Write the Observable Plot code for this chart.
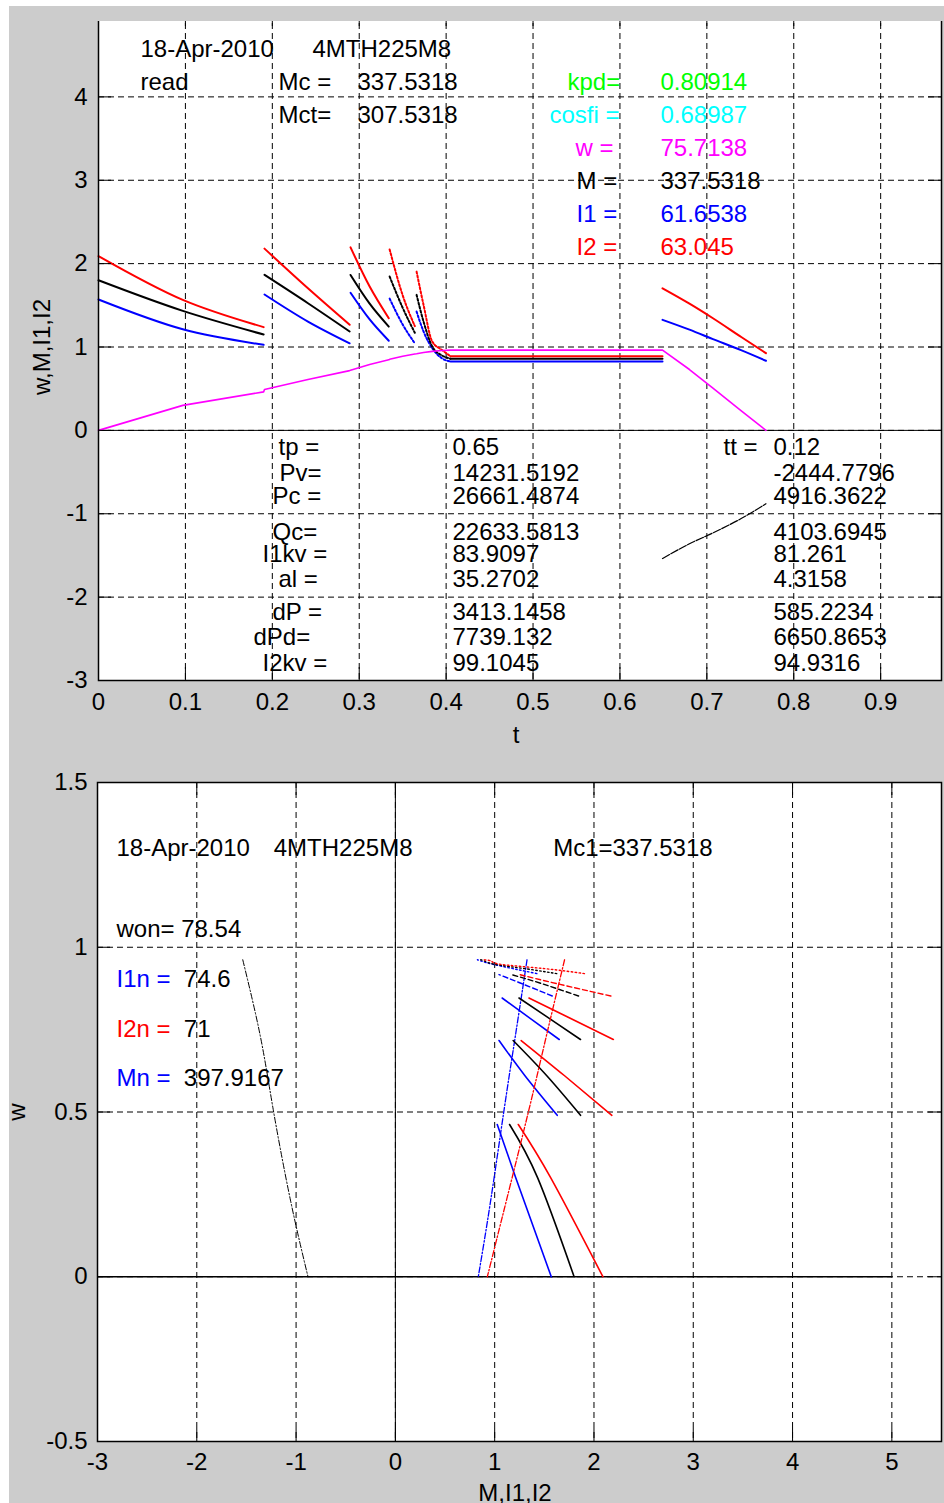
<!DOCTYPE html>
<html><head><meta charset="utf-8">
<script src="https://cdn.jsdelivr.net/npm/d3@7"></script>
<script src="https://cdn.jsdelivr.net/npm/@observablehq/plot@0.6"></script>
<style>
html,body{margin:0;padding:0;background:#fff;}
#fig{position:relative;width:944px;height:1503px;overflow:hidden;}
#bg{position:absolute;left:9px;top:6px;width:935px;height:1497px;background:#cccccc;}
#top{position:absolute;left:0;top:0;}
#bot{position:absolute;left:0;top:760px;}
#strip{position:absolute;left:9px;top:6px;width:935px;height:15px;background:#cccccc;}
#white{position:absolute;left:0;top:0;width:944px;height:6px;background:#fff;}
#fig svg{background:transparent !important;overflow:visible;}
#fig svg text{font-family:'Liberation Sans',Arial,Helvetica,sans-serif;font-size:24px;}
</style></head>
<body><div id="fig"><div id="bg"></div><div id="top"></div><div id="bot"></div><div id="strip"></div><div id="white"></div></div>
<script>
// ---------- data ----------
// segment id of every sample: 1..5 acceleration stages, 6 steady run, 7 braking
const segId = [1,1,1, 2,2,2, 3,3,3, 4,4,4, 5,5,5,5,5, 6,6, 7,7,7,7,7];
const tVal  = [0,0.097,0.190, 0.191,0.241,0.289, 0.290,0.312,0.334, 0.335,0.350,0.364, 0.366,0.374,0.384,0.395,0.405, 0.405,0.649, 0.649,0.68,0.707,0.74,0.768];
const wVal  = [0,0.30,0.462, 0.49,0.61,0.717, 0.72,0.79,0.846, 0.852,0.89,0.917, 0.92,0.935,0.948,0.958,0.962, 0.962,0.962, 0.962,0.73,0.507,0.23,0.0];
const mVal  = [1.80,1.433,1.15, 1.865,1.525,1.186, 1.864,1.52,1.245, 1.845,1.47,1.17, 1.625,1.305,1.006,0.90,0.86, 0.86,0.86, -1.537,-1.36,-1.23,-1.055,-0.88];
const i1Val = [1.57,1.213,1.026, 1.63,1.305,1.044, 1.65,1.33,1.075, 1.58,1.27,1.044, 1.425,1.186,0.986,0.866,0.826, 0.826,0.826, 1.326,1.208,1.095,0.959,0.835];
const i2Val = [2.09,1.565,1.238, 2.18,1.704,1.267, 2.195,1.725,1.345, 2.17,1.62,1.25, 1.904,1.505,1.066,0.966,0.89, 0.89,0.89, 1.704,1.52,1.345,1.117,0.926];

// ticks
const tTicks = [0,0.1,0.2,0.3,0.4,0.5,0.6,0.7,0.8,0.9];
const vTicks = [-3,-2,-1,0,1,2,3,4,5];
const mTicks = [-3,-2,-1,0,1,2,3,4,5];
const wTicks = [-0.5,0,0.5,1,1.5];

// annotation texts, top plot
const topText  = ["18-Apr-2010","4MTH225M8","read","Mc =","337.5318","Mct=","307.5318",
  "kpd=","0.80914","cosfi =","0.68987","w =","75.7138","M =","337.5318","I1 =","61.6538","I2 =","63.045",
  "tp =","0.65","Pv=","14231.5192","Pc =","26661.4874","Qc=","22633.5813","I1kv =","83.9097","al =","35.2702",
  "dP =","3413.1458","dPd=","7739.132","I2kv =","99.1045",
  "tt =","0.12","-2444.7796","4916.3622","4103.6945","81.261","4.3158","585.2234","6650.8653","94.9316"];
const topTextT = [0.0483,0.2462,0.0483,0.2071,0.298,0.2071,0.298,
  0.5396,0.6466,0.5189,0.6466,0.5488,0.6466,0.550,0.6466,0.550,0.6466,0.550,0.6466,
  0.2071,0.4073,0.2083,0.4073,0.2002,0.4073,0.2002,0.4073,0.1887,0.4073,0.2071,0.4073,
  0.2002,0.4073,0.1783,0.4073,0.1887,0.4073,
  0.7192,0.7767,0.7767,0.7767,0.7767,0.7767,0.7767,0.7767,0.7767,0.7767];
const topTextV = [4.568,4.568,4.169,4.169,4.169,3.773,3.773,
  4.169,4.169,3.773,3.773,3.389,3.389,2.990,2.990,2.589,2.589,2.190,2.190,
  -0.209,-0.209,-0.509,-0.509,-0.789,-0.789,-1.217,-1.217,-1.489,-1.489,-1.789,-1.789,
  -2.188,-2.188,-2.488,-2.488,-2.788,-2.788,
  -0.209,-0.209,-0.509,-0.789,-1.217,-1.489,-1.789,-2.188,-2.488,-2.788];
const topTextColor = ["black","black","black","black","black","black","black",
  "#00ff00","#00ff00","#00ffff","#00ffff","#ff00ff","#ff00ff","black","black","#0000ff","#0000ff","#ff0000","#ff0000",
  ...Array(18).fill("black"), ...Array(10).fill("black")];

// annotation texts, bottom plot
const botText  = ["18-Apr-2010","4MTH225M8","Mc1=337.5318","won= 78.54","I1n =","74.6","I2n =","71","Mn =","397.9167"];
const botTextM = [-2.809,-1.2247,1.589,-2.809,-2.809,-2.131,-2.809,-2.131,-2.809,-2.131];
const botTextW = [1.301,1.301,1.301,1.053,0.9016,0.9016,0.750,0.750,0.6034,0.6034];
const botTextColor = ["black","black","black","black","#0000ff","black","#ff0000","black","#0000ff","black"];

// ---------- build ----------
const rows = segId.map((s,i)=>({seg:s, t:tVal[i], w:wVal[i], M:mVal[i], I1:i1Val[i], I2:i2Val[i]}));
const series = [["I1","#0000ff"],["M","black"],["I2","#ff0000"]];
const inSegs = (segs) => rows.filter(r => segs.includes(r.seg));
const topTexts = topText.map((s,i)=>({s, x:topTextT[i], y:topTextV[i], c:topTextColor[i]}));
const botTexts = botText.map((s,i)=>({s, x:botTextM[i], y:botTextW[i], c:botTextColor[i]}));

const W = 944, TICK = 13;
const FONT = "'Liberation Sans', Arial, Helvetica, sans-serif";
const fmt = d => String(d);
const gridStyle = {stroke:"black", strokeOpacity:1, strokeWidth:1, strokeDasharray:"6,4"};

// ---- top plot ----
const topH = 760, topMT = 13, topMB = 80, topML = 98, topMR = 3;
const topIW = W - topML - topMR, topIH = topH - topMT - topMB;
const topMarks = [
  Plot.frame({fill:"white", stroke:"none"}),
  Plot.ruleX(tTicks, {x:d=>d, ...gridStyle}),
  Plot.ruleY(vTicks, {y:d=>d, ...gridStyle}),
  Plot.ruleY([0], {y:d=>d, stroke:"black", strokeWidth:1})
];
for (const [key,color] of series) {
  const solidSegs = key === "M" ? [1,2,3,6] : [1,2,3,6,7];
  topMarks.push(Plot.line(inSegs(solidSegs), {x:"t", y:key, z:"seg", stroke:color, strokeWidth:2, curve:"monotone-x"}));
  topMarks.push(Plot.line(inSegs([4,5]), {x:"t", y:key, z:"seg", stroke:color, strokeWidth:2, strokeDasharray:"2,2", curve:"monotone-x"}));
}
topMarks.push(Plot.line(inSegs([7]), {x:"t", y:"M", stroke:"black", strokeWidth:1.2, strokeDasharray:"8,1.5", curve:"monotone-x"}));
topMarks.push(Plot.line(rows, {x:"t", y:"w", stroke:"#ff00ff", strokeWidth:1.6}));
topMarks.push(Plot.text(topTexts, {x:"x", y:"y", text:"s", fill:"c", textAnchor:"start", fontSize:24}));
topMarks.push(Plot.tickX(tTicks, {x:d=>d, stroke:"black", insetTop: topIH - TICK}));
topMarks.push(Plot.tickX(tTicks, {x:d=>d, stroke:"black", insetBottom: topIH - TICK}));
topMarks.push(Plot.tickY(vTicks, {y:d=>d, stroke:"black", insetRight: topIW - TICK}));
topMarks.push(Plot.tickY(vTicks, {y:d=>d, stroke:"black", insetLeft: topIW - TICK}));
topMarks.push(Plot.frame({stroke:"black", strokeWidth:1.5, fill:"none"}));

const topPlot = Plot.plot({
  width: W, height: topH, marginTop: topMT, marginBottom: topMB, marginLeft: topML, marginRight: topMR,
  style: {background:"transparent", fontFamily: FONT, fontSize:"24px", color:"black", overflow:"visible"},
  x: {domain:[0,0.97], ticks:tTicks, tickSize:0, tickPadding:12, tickFormat:fmt, label:null},
  y: {domain:[-3,5], ticks:vTicks, tickSize:0, tickPadding:11, tickFormat:fmt, label:null},
  color: {type:"identity"},
  marks: topMarks
});
document.getElementById("top").appendChild(topPlot);
{
  const svg = d3.select(topPlot.tagName.toLowerCase()==="svg" ? topPlot : topPlot.querySelector("svg"));
  svg.append("text").attr("transform","translate(50,347) rotate(-90)").attr("text-anchor","middle").attr("fill","black").text("w,M,I1,I2");
  svg.append("text").attr("x",516).attr("y",743).attr("text-anchor","middle").attr("fill","black").text("t");
}

// ---- bottom plot ----
const botH = 743, botMT = 22, botMB = 62, botML = 97, botMR = 3;
const botIW = W - botML - botMR, botIH = botH - botMT - botMB;
const botZero = [{y:0, x1:-3, x2:5}];
const botMarks = [
  Plot.frame({fill:"white", stroke:"none"}),
  Plot.ruleX(mTicks, {x:d=>d, ...gridStyle}),
  Plot.ruleY(wTicks, {y:d=>d, ...gridStyle}),
  Plot.ruleX([0], {x:d=>d, stroke:"black", strokeWidth:1}),
  Plot.ruleY(botZero, {y:"y", x1:"x1", x2:"x2", stroke:"black", strokeWidth:1.5})
];
for (const [key,color] of series) {
  botMarks.push(Plot.line(inSegs([1,2,3]), {x:key, y:"w", z:"seg", stroke:color, strokeWidth:1.6, curve:"natural"}));
  botMarks.push(Plot.line(inSegs([4]), {x:key, y:"w", z:"seg", stroke:color, strokeWidth:1.4, strokeDasharray:"5,3", curve:"natural"}));
  botMarks.push(Plot.line(inSegs([5]), {x:key, y:"w", z:"seg", stroke:color, strokeWidth:1.4, strokeDasharray:"1.5,2.5", curve:"natural"}));
  botMarks.push(Plot.line(inSegs([7]), {x:key, y:"w", z:"seg", stroke:color, strokeWidth: key==="M" ? 1 : 1.3, strokeDasharray:"6,2,1.5,2", curve:"natural"}));
}
botMarks.push(Plot.text(botTexts, {x:"x", y:"y", text:"s", fill:"c", textAnchor:"start", fontSize:24}));
botMarks.push(Plot.tickX(mTicks, {x:d=>d, stroke:"black", insetTop: botIH - TICK}));
botMarks.push(Plot.tickX(mTicks, {x:d=>d, stroke:"black", insetBottom: botIH - TICK}));
botMarks.push(Plot.tickY(wTicks, {y:d=>d, stroke:"black", insetRight: botIW - TICK}));
botMarks.push(Plot.tickY(wTicks, {y:d=>d, stroke:"black", insetLeft: botIW - TICK}));
botMarks.push(Plot.frame({stroke:"black", strokeWidth:1.5, fill:"none"}));

const botPlot = Plot.plot({
  width: W, height: botH, marginTop: botMT, marginBottom: botMB, marginLeft: botML, marginRight: botMR,
  style: {background:"transparent", fontFamily: FONT, fontSize:"24px", color:"black", overflow:"visible"},
  x: {domain:[-3,5.5], ticks:mTicks, tickSize:0, tickPadding:11, tickFormat:fmt, label:null},
  y: {domain:[-0.5,1.5], ticks:wTicks, tickSize:0, tickPadding:10, tickFormat:fmt, label:null},
  color: {type:"identity"},
  marks: botMarks
});
document.getElementById("bot").appendChild(botPlot);
{
  const svg = d3.select(botPlot.tagName.toLowerCase()==="svg" ? botPlot : botPlot.querySelector("svg"));
  svg.append("text").attr("transform","translate(25,352) rotate(-90)").attr("text-anchor","middle").attr("fill","black").text("w");
  svg.append("text").attr("x",515).attr("y",741).attr("text-anchor","middle").attr("fill","black").text("M,I1,I2");
}
</script>
</body></html>
